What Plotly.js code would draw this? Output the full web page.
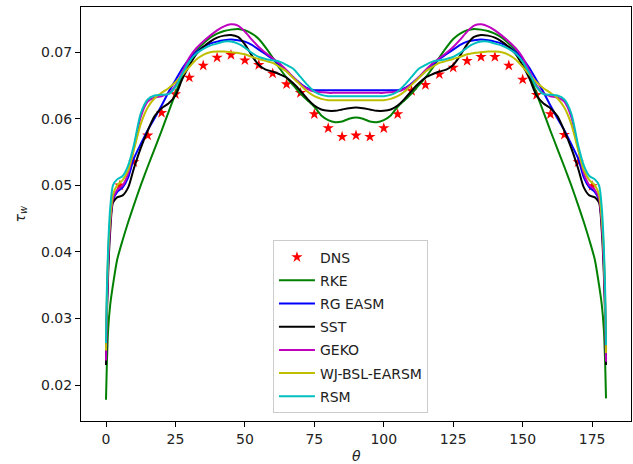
<!DOCTYPE html>
<html><head><meta charset="utf-8">
<script src="https://cdn.plot.ly/plotly-3.0.1.min.js"></script>
<style>html,body{margin:0;padding:0;background:#fff}#chart{width:633px;height:464px}</style>
</head><body><div id="chart"></div>
<script>
const thetaGrid = [0,0.3,0.8,1.5,2.5,4,6,8,10,12.5,15,17.5,20,22.5,25,27.5,30,32.5,35,37.5,40,42.5,45,47.5,50,52.5,55,57.5,60,62.5,65,67.5,70,72.5,75,77.5,80,82.5,85,87.5,90,92.5,95,97.5,100,102.5,105,107.5,110,112.5,115,117.5,120,122.5,125,127.5,130,132.5,135,137.5,140,142.5,145,147.5,150,152.5,155,157.5,160,162.5,165,167.5,170,172,174,176,177.5,178.5,179.2,179.7,180];

const dnsTheta = [5,10,15,20,25,30,35,40,45,50,55,60,65,70,75,80,85,90,95,100,105,110,115,120,125,130,135,140,145,150,155,160,165,170,175];
const dnsTau = [0.0500,0.0535,0.0575,0.0609,0.0637,0.0662,0.0680,0.0692,0.0696,0.0688,0.0681,0.0668,0.0652,0.0639,0.0607,0.0586,0.0573,0.0575,0.0573,0.0586,0.0607,0.0642,0.0651,0.0667,0.0677,0.0687,0.0693,0.0693,0.0680,0.0659,0.0636,0.0607,0.0576,0.0535,0.0499];

const rke = [0.0178,0.0230,0.0285,0.0320,0.0350,0.0388,0.0418,0.0445,0.0470,0.0500,0.0528,0.0555,0.0582,0.0610,0.0638,0.0665,0.0687,0.0702,0.0713,0.0722,0.0728,0.0732,0.0734,0.0735,0.0733,0.0728,0.0720,0.0707,0.0692,0.0676,0.0662,0.0650,0.0638,0.0628,0.0618,0.0605,0.0598,0.0595,0.0596,0.0600,0.0602,
 0.0600,0.0596,0.0595,0.0598,0.0605,0.0618,0.0628,0.0638,0.0650,0.0662,0.0676,0.0692,0.0707,0.0720,0.0728,0.0733,0.0735,0.0734,0.0732,0.0728,0.0722,0.0713,0.0702,0.0687,0.0665,0.0638,0.0610,0.0582,0.0555,0.0528,0.0500,0.0470,0.0445,0.0418,0.0388,0.0350,0.0320,0.0285,0.0232,0.0180];

const rgEasm = [0.0240,0.0320,0.0390,0.0445,0.0478,0.0490,0.0497,0.0512,0.0540,0.0562,0.0583,0.0601,0.0620,0.0640,0.0658,0.0676,0.0690,0.0700,0.0708,0.0713,0.0716,0.0718,0.0719,0.0718,0.0716,0.0711,0.0704,0.0697,0.0690,0.0681,0.0672,0.0662,0.0653,0.0646,0.0643,0.0643,0.0643,0.0643,0.0643,0.0643,0.0643,
 0.0643,0.0643,0.0643,0.0643,0.0643,0.0643,0.0646,0.0653,0.0662,0.0672,0.0681,0.0690,0.0697,0.0704,0.0711,0.0716,0.0718,0.0719,0.0718,0.0716,0.0713,0.0708,0.0700,0.0690,0.0676,0.0658,0.0640,0.0620,0.0601,0.0583,0.0562,0.0540,0.0512,0.0497,0.0490,0.0478,0.0445,0.0390,0.0320,0.0240];

const sst = [0.0230,0.0300,0.0370,0.0430,0.0474,0.0482,0.0485,0.0497,0.0525,0.0556,0.0582,0.0604,0.0616,0.0623,0.0635,0.0660,0.0680,0.0697,0.0708,0.0716,0.0722,0.0725,0.0726,0.0723,0.0712,0.0695,0.0681,0.0674,0.0671,0.0667,0.0662,0.0653,0.0642,0.0630,0.0620,0.0614,0.0612,0.0612,0.0614,0.0616,0.0617,
 0.0616,0.0614,0.0612,0.0612,0.0614,0.0620,0.0630,0.0642,0.0653,0.0662,0.0667,0.0671,0.0674,0.0681,0.0695,0.0712,0.0723,0.0726,0.0725,0.0722,0.0716,0.0708,0.0697,0.0680,0.0660,0.0635,0.0623,0.0616,0.0604,0.0582,0.0556,0.0525,0.0497,0.0485,0.0482,0.0474,0.0430,0.0370,0.0300,0.0230];

const geko = [0.0237,0.0310,0.0380,0.0440,0.0480,0.0493,0.0500,0.0518,0.0555,0.0603,0.0626,0.0632,0.0634,0.0638,0.0650,0.0671,0.0692,0.0706,0.0716,0.0725,0.0733,0.0739,0.0742,0.0740,0.0731,0.0719,0.0708,0.0699,0.0691,0.0683,0.0673,0.0662,0.0652,0.0645,0.0641,0.0640,0.0639,0.0639,0.0639,0.0639,0.0639,
 0.0639,0.0639,0.0639,0.0639,0.0640,0.0641,0.0645,0.0652,0.0662,0.0673,0.0683,0.0691,0.0699,0.0708,0.0719,0.0731,0.0740,0.0742,0.0739,0.0733,0.0725,0.0716,0.0706,0.0692,0.0671,0.0650,0.0638,0.0634,0.0632,0.0626,0.0603,0.0555,0.0518,0.0500,0.0493,0.0480,0.0440,0.0380,0.0310,0.0235];

const wjBslEarsm = [0.0252,0.0330,0.0400,0.0450,0.0486,0.0500,0.0508,0.0523,0.0553,0.0592,0.0617,0.0631,0.0639,0.0646,0.0655,0.0666,0.0678,0.0689,0.0696,0.0700,0.0701,0.0701,0.0700,0.0699,0.0697,0.0693,0.0690,0.0687,0.0684,0.0678,0.0671,0.0661,0.0651,0.0641,0.0634,0.0630,0.0628,0.0628,0.0628,0.0628,0.0628,
 0.0628,0.0628,0.0628,0.0628,0.0630,0.0634,0.0641,0.0651,0.0661,0.0671,0.0678,0.0684,0.0687,0.0690,0.0693,0.0697,0.0699,0.0700,0.0701,0.0701,0.0700,0.0696,0.0689,0.0678,0.0666,0.0655,0.0646,0.0639,0.0631,0.0617,0.0592,0.0553,0.0523,0.0508,0.0500,0.0486,0.0450,0.0400,0.0330,0.0248];

const rsm = [0.0263,0.0340,0.0410,0.0465,0.0500,0.0509,0.0514,0.0530,0.0560,0.0608,0.0629,0.0635,0.0636,0.0637,0.0648,0.0668,0.0686,0.0698,0.0705,0.0710,0.0713,0.0716,0.0716,0.0713,0.0707,0.0699,0.0693,0.0690,0.0688,0.0686,0.0681,0.0675,0.0663,0.0651,0.0641,0.0636,0.0634,0.0634,0.0634,0.0634,0.0634,
 0.0634,0.0634,0.0634,0.0634,0.0636,0.0641,0.0651,0.0663,0.0675,0.0681,0.0686,0.0688,0.0690,0.0693,0.0699,0.0707,0.0713,0.0716,0.0716,0.0713,0.0710,0.0705,0.0698,0.0686,0.0668,0.0648,0.0637,0.0636,0.0635,0.0629,0.0608,0.0560,0.0530,0.0514,0.0509,0.0500,0.0465,0.0410,0.0340,0.0260];

const xTicks = [0,25,50,75,100,125,150,175];
const yTicks = [0.02,0.03,0.04,0.05,0.06,0.07];
const yTickText = ['0.02','0.03','0.04','0.05','0.06','0.07'];

function lineTrace(name, y, color) {
  return {type:'scatter', mode:'lines', name:name, legendgroup:name, x:thetaGrid, y:y,
    line:{color:color, width:2, shape:'spline', smoothing:0.7}};
}
const traces = [
  {type:'scatter', mode:'markers', name:'DNS', legendgroup:'DNS', x:dnsTheta, y:dnsTau,
   marker:{symbol:'star', color:'#ff0000', size:8.5, line:{width:0}}},
  lineTrace('RKE', rke, '#008000'),
  lineTrace('RG EASM', rgEasm, '#0000ff'),
  lineTrace('SST', sst, '#000000'),
  lineTrace('GEKO', geko, '#bf00bf'),
  lineTrace('WJ-BSL-EARSM', wjBslEarsm, '#bfbf00'),
  lineTrace('RSM', rsm, '#00bfbf')
];
const axisCommon = {ticks:'outside', ticklen:5, tickwidth:1, tickcolor:'#000',
  showline:true, linecolor:'#000', linewidth:1, mirror:true, showgrid:false, zeroline:false,
  tickfont:{family:'DejaVu Sans', size:14, color:'#222'}};
const layout = {
  width:633, height:464,
  margin:{l:81, r:2, t:7, b:43},
  paper_bgcolor:'#fff', plot_bgcolor:'#fff',
  font:{family:'DejaVu Sans', size:14, color:'#222'},
  showlegend:true,
  xaxis:Object.assign({range:[-9,189], tickmode:'array', tickvals:xTicks}, axisCommon),
  yaxis:Object.assign({range:[0.0146,0.0768], tickmode:'array', tickvals:yTicks, ticktext:yTickText}, axisCommon),
  legend:{x:0.349, y:0.436, xanchor:'left', yanchor:'top', bgcolor:'rgba(255,255,255,0.8)',
    bordercolor:'#cccccc', borderwidth:1, traceorder:'grouped', tracegroupgap:2, itemwidth:36,
    font:{family:'DejaVu Sans', size:14, color:'#222'}},
  annotations:[
    {text:'<i>θ</i>', xref:'paper', yref:'paper', x:0.5, y:-0.085, xanchor:'center', yanchor:'middle', showarrow:false, font:{size:14}},
    {text:'<i>τ</i><sub><i>w</i></sub>', xref:'paper', yref:'paper', x:-0.11, y:0.5, xanchor:'center', yanchor:'middle', textangle:-90, showarrow:false, font:{size:14}}
  ]
};
Plotly.newPlot('chart', traces, layout, {staticPlot:true});
</script>
</body></html>
